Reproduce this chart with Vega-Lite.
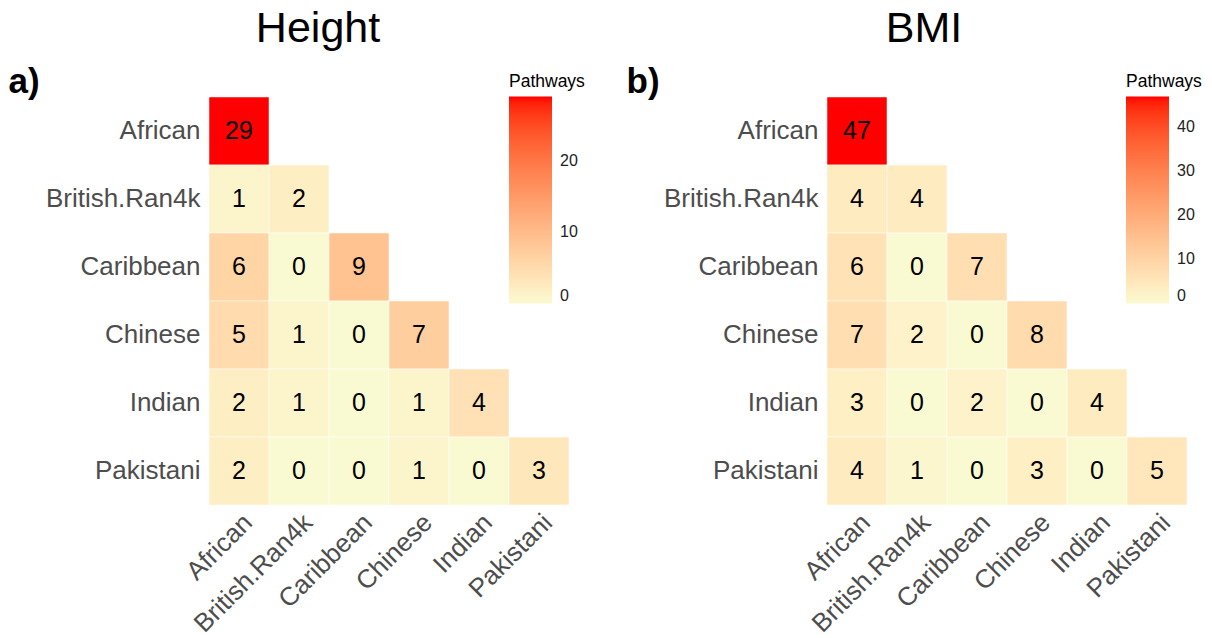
{
  "$schema": "https://vega.github.io/schema/vega-lite/v6.json",
  "padding": {"left": 8, "top": 8, "right": 0, "bottom": 0},
  "background": "white",
  "config": {
    "font": "Liberation Sans",
    "view": {"stroke": null},
    "concat": {"spacing": 41},
    "axis": {"grid": false, "domain": false, "ticks": false, "labelFont": "Liberation Sans", "labelFontSize": 26, "labelColor": "#4D4D4D"},
    "legend": {"padding": 0, "gradientStrokeWidth": 0}
  },
  "datasets": {
    "height": [
      {"row": "African", "col": "African", "value": 29},
      {"row": "British.Ran4k", "col": "African", "value": 1},
      {"row": "British.Ran4k", "col": "British.Ran4k", "value": 2},
      {"row": "Caribbean", "col": "African", "value": 6},
      {"row": "Caribbean", "col": "British.Ran4k", "value": 0},
      {"row": "Caribbean", "col": "Caribbean", "value": 9},
      {"row": "Chinese", "col": "African", "value": 5},
      {"row": "Chinese", "col": "British.Ran4k", "value": 1},
      {"row": "Chinese", "col": "Caribbean", "value": 0},
      {"row": "Chinese", "col": "Chinese", "value": 7},
      {"row": "Indian", "col": "African", "value": 2},
      {"row": "Indian", "col": "British.Ran4k", "value": 1},
      {"row": "Indian", "col": "Caribbean", "value": 0},
      {"row": "Indian", "col": "Chinese", "value": 1},
      {"row": "Indian", "col": "Indian", "value": 4},
      {"row": "Pakistani", "col": "African", "value": 2},
      {"row": "Pakistani", "col": "British.Ran4k", "value": 0},
      {"row": "Pakistani", "col": "Caribbean", "value": 0},
      {"row": "Pakistani", "col": "Chinese", "value": 1},
      {"row": "Pakistani", "col": "Indian", "value": 0},
      {"row": "Pakistani", "col": "Pakistani", "value": 3}
    ],
    "bmi": [
      {"row": "African", "col": "African", "value": 47},
      {"row": "British.Ran4k", "col": "African", "value": 4},
      {"row": "British.Ran4k", "col": "British.Ran4k", "value": 4},
      {"row": "Caribbean", "col": "African", "value": 6},
      {"row": "Caribbean", "col": "British.Ran4k", "value": 0},
      {"row": "Caribbean", "col": "Caribbean", "value": 7},
      {"row": "Chinese", "col": "African", "value": 7},
      {"row": "Chinese", "col": "British.Ran4k", "value": 2},
      {"row": "Chinese", "col": "Caribbean", "value": 0},
      {"row": "Chinese", "col": "Chinese", "value": 8},
      {"row": "Indian", "col": "African", "value": 3},
      {"row": "Indian", "col": "British.Ran4k", "value": 0},
      {"row": "Indian", "col": "Caribbean", "value": 2},
      {"row": "Indian", "col": "Chinese", "value": 0},
      {"row": "Indian", "col": "Indian", "value": 4},
      {"row": "Pakistani", "col": "African", "value": 4},
      {"row": "Pakistani", "col": "British.Ran4k", "value": 1},
      {"row": "Pakistani", "col": "Caribbean", "value": 0},
      {"row": "Pakistani", "col": "Chinese", "value": 3},
      {"row": "Pakistani", "col": "Indian", "value": 0},
      {"row": "Pakistani", "col": "Pakistani", "value": 5}
    ]
  },
  "resolve": {"scale": {"color": "independent"}},
  "hconcat": [
    {
      "title": {"text": "Height", "fontSize": 43, "fontWeight": "normal", "color": "black", "anchor": "middle", "dx": -71, "offset": 13},
      "width": 360,
      "height": 408,
      "data": {"name": "height"},
      "encoding": {
        "x": {
          "field": "col", "type": "nominal",
          "scale": {"domain": ["African", "British.Ran4k", "Caribbean", "Chinese", "Indian", "Pakistani"], "paddingInner": 0, "paddingOuter": 0},
          "axis": {"title": null, "labelAngle": -45, "labelAlign": "right", "labelBaseline": "top", "labelPadding": 4}
        },
        "y": {
          "field": "row", "type": "nominal",
          "scale": {"domain": ["African", "British.Ran4k", "Caribbean", "Chinese", "Indian", "Pakistani"], "paddingInner": 0, "paddingOuter": 0},
          "axis": {"title": "a)", "titleAngle": 0, "titleFontSize": 35, "titleFontWeight": "bold", "titleColor": "black", "titleAlign": "left", "titleBaseline": "alphabetic", "titleX": -201, "titleY": -5, "labelPadding": 9}
        }
      },
      "layer": [
        {
          "mark": {"type": "rect", "stroke": "white", "strokeWidth": 0.5},
          "encoding": {
            "color": {
              "field": "value", "type": "quantitative",
              "scale": {"domain": [0, 29], "range": ["#FAFAD2", "#FF0000"], "interpolate": "lab"},
              "legend": {"title": "Pathways", "orient": "none", "legendX": 300, "legendY": -24, "direction": "vertical", "titleFontSize": 17.5, "titleFontWeight": "normal", "titleColor": "black", "titlePadding": 6, "gradientLength": 207, "gradientThickness": 43, "labelFontSize": 16, "labelColor": "#222222", "labelOffset": 8, "values": [0, 10, 20]}
            }
          }
        },
        {
          "mark": {"type": "text", "fontSize": 25, "color": "black"},
          "encoding": {"text": {"field": "value", "type": "quantitative"}}
        }
      ]
    },
    {
      "title": {"text": "BMI", "fontSize": 43, "fontWeight": "normal", "color": "black", "anchor": "middle", "dx": -83, "offset": 13},
      "width": 360,
      "height": 408,
      "data": {"name": "bmi"},
      "encoding": {
        "x": {
          "field": "col", "type": "nominal",
          "scale": {"domain": ["African", "British.Ran4k", "Caribbean", "Chinese", "Indian", "Pakistani"], "paddingInner": 0, "paddingOuter": 0},
          "axis": {"title": null, "labelAngle": -45, "labelAlign": "right", "labelBaseline": "top", "labelPadding": 4}
        },
        "y": {
          "field": "row", "type": "nominal",
          "scale": {"domain": ["African", "British.Ran4k", "Caribbean", "Chinese", "Indian", "Pakistani"], "paddingInner": 0, "paddingOuter": 0},
          "axis": {"title": "b)", "titleAngle": 0, "titleFontSize": 35, "titleFontWeight": "bold", "titleColor": "black", "titleAlign": "left", "titleBaseline": "alphabetic", "titleX": -201, "titleY": -5, "labelPadding": 9}
        }
      },
      "layer": [
        {
          "mark": {"type": "rect", "stroke": "white", "strokeWidth": 0.5},
          "encoding": {
            "color": {
              "field": "value", "type": "quantitative",
              "scale": {"domain": [0, 47], "range": ["#FAFAD2", "#FF0000"], "interpolate": "lab"},
              "legend": {"title": "Pathways", "orient": "none", "legendX": 299, "legendY": -24, "direction": "vertical", "titleFontSize": 17.5, "titleFontWeight": "normal", "titleColor": "black", "titlePadding": 6, "gradientLength": 207, "gradientThickness": 43, "labelFontSize": 16, "labelColor": "#222222", "labelOffset": 8, "values": [0, 10, 20, 30, 40]}
            }
          }
        },
        {
          "mark": {"type": "text", "fontSize": 25, "color": "black"},
          "encoding": {"text": {"field": "value", "type": "quantitative"}}
        }
      ]
    }
  ]
}
